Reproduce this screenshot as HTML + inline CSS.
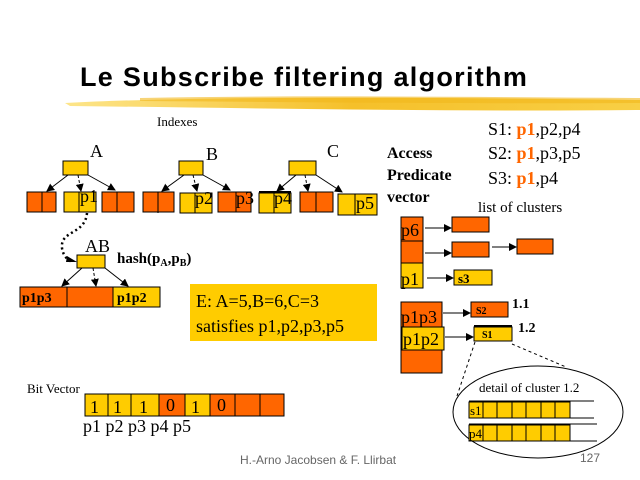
<!DOCTYPE html>
<html><head><meta charset="utf-8"><style>
html,body{margin:0;padding:0;background:#fff;width:640px;height:480px;overflow:hidden}
svg{display:block}
</style></head><body>
<svg width="640" height="480" viewBox="0 0 640 480" xmlns="http://www.w3.org/2000/svg" font-family="'Liberation Serif', serif">
<defs>
<marker id="ah" markerWidth="8" markerHeight="8" refX="7" refY="4" orient="auto" markerUnits="userSpaceOnUse"><path d="M0,0 L8,4 L0,8 z" fill="#000"/></marker>
<linearGradient id="br" x1="0" x2="1" y1="0" y2="0"><stop offset="0" stop-color="#fde58a"/><stop offset="0.5" stop-color="#f5c02a"/><stop offset="1" stop-color="#f8cf45"/></linearGradient>
</defs>
<!-- title -->
<path d="M65,103 C200,96 400,97 640,100 L640,110 C450,112 250,108 70,106 Z" fill="url(#br)"/>
<path d="M140,98 C300,95 480,97 640,98 L640,103 C450,104 300,102 140,101 Z" fill="#f2b81c" opacity="0.6"/>
<text x="80" y="86" font-family="'Liberation Sans', sans-serif" font-weight="bold" font-size="27" letter-spacing="1.3" fill="#000">Le Subscribe filtering algorithm</text>
<text x="157" y="126" font-size="13">Indexes</text>

<g stroke="#000" stroke-width="1">
<!-- A -->
<rect x="63" y="161" width="25" height="14" fill="#ffcc00"/>
<rect x="27" y="192" width="29" height="20" fill="#ff6600"/><line x1="42" y1="192" x2="42" y2="212"/>
<rect x="64" y="192" width="32" height="20" fill="#ffcc00"/><line x1="79" y1="192" x2="79" y2="212"/>
<rect x="102" y="192" width="32" height="20" fill="#ff6600"/><line x1="117" y1="192" x2="117" y2="212"/>
<line x1="68" y1="175" x2="47" y2="191" marker-end="url(#ah)"/>
<line x1="78" y1="175" x2="81" y2="191" marker-end="url(#ah)" stroke-dasharray="3,2"/>
<line x1="88" y1="175" x2="115" y2="190" marker-end="url(#ah)"/>
<!-- B -->
<rect x="179" y="161" width="24" height="14" fill="#ffcc00"/>
<rect x="143" y="192" width="31" height="20" fill="#ff6600"/><line x1="158" y1="192" x2="158" y2="213"/>
<rect x="180" y="193" width="32" height="20" fill="#ffcc00"/><line x1="195" y1="193" x2="195" y2="213"/>
<rect x="218" y="192" width="33" height="20" fill="#ff6600"/><line x1="236" y1="192" x2="236" y2="212"/>
<line x1="184" y1="175" x2="162" y2="191" marker-end="url(#ah)"/>
<line x1="193" y1="175" x2="197" y2="191" marker-end="url(#ah)" stroke-dasharray="3,2"/>
<line x1="203" y1="175" x2="230" y2="190" marker-end="url(#ah)"/>
<!-- C -->
<rect x="289" y="161" width="27" height="14" fill="#ffcc00"/>
<rect x="259" y="193" width="32" height="20" fill="#ffcc00"/><line x1="274" y1="193" x2="274" y2="213"/>
<line x1="259" y1="192" x2="291" y2="192" stroke-width="2"/>
<rect x="300" y="192" width="33" height="20" fill="#ff6600"/><line x1="316" y1="192" x2="316" y2="212"/>
<rect x="338" y="194" width="39" height="21" fill="#ffcc00"/><line x1="355" y1="194" x2="355" y2="215"/>
<line x1="296" y1="175" x2="277" y2="191" marker-end="url(#ah)"/>
<line x1="305" y1="175" x2="308" y2="191" marker-end="url(#ah)" stroke-dasharray="3,2"/>
<line x1="316" y1="175" x2="342" y2="192" marker-end="url(#ah)"/>
<!-- AB -->
<rect x="77" y="255" width="28" height="13" fill="#ffcc00"/>
<rect x="20" y="287" width="47" height="20" fill="#ff6600"/>
<rect x="67" y="287" width="46" height="20" fill="#ff6600"/>
<rect x="113" y="287" width="47" height="20" fill="#ffcc00"/>
<line x1="82" y1="268" x2="62" y2="286" marker-end="url(#ah)"/>
<line x1="93" y1="268" x2="96" y2="286" marker-end="url(#ah)" stroke-dasharray="3,2"/>
<line x1="105" y1="268" x2="128" y2="286" marker-end="url(#ah)"/>
</g>
<path d="M87,213 C85,235 60,230 62,248 C63,256 68,260 72,262" fill="none" stroke="#000" stroke-width="2.5" stroke-dasharray="2,3"/>
<path d="M67,256 L77,262 L66,262 z" fill="#000"/>
<g font-size="18">
<text x="90" y="157">A</text><text x="206" y="160">B</text><text x="327" y="157">C</text>
<text x="80" y="202">p1</text><text x="195" y="204">p2</text><text x="236" y="204">p3</text>
<text x="274" y="204">p4</text><text x="356" y="209">p5</text>
<text x="85" y="252">AB</text>
</g>
<text x="117" y="263" font-size="15" font-weight="bold">hash(p<tspan font-size="10" dy="3">A</tspan><tspan dy="-3">,p</tspan><tspan font-size="10" dy="3">B</tspan><tspan dy="-3">)</tspan></text>
<text x="22" y="302" font-size="14" font-weight="bold">p1p3</text>
<text x="117" y="302" font-size="14" font-weight="bold">p1p2</text>

<!-- E box -->
<rect x="190" y="284" width="187" height="57" fill="#ffcc00"/>
<text x="196" y="307" font-size="18">E: A=5,B=6,C=3</text>
<text x="196" y="332" font-size="18">satisfies p1,p2,p3,p5</text>

<!-- bit vector -->
<text x="27" y="393" font-size="13">Bit Vector</text>
<g stroke="#000">
<rect x="85" y="394" width="23" height="22" fill="#ffcc00"/>
<rect x="108" y="394" width="23" height="22" fill="#ffcc00"/>
<rect x="131" y="394" width="28" height="22" fill="#ffcc00"/>
<rect x="159" y="394" width="26" height="22" fill="#ff6600"/>
<rect x="185" y="394" width="25" height="22" fill="#ffcc00"/>
<rect x="210" y="394" width="25" height="22" fill="#ff6600"/>
<rect x="235" y="394" width="25" height="22" fill="#ff6600"/>
<rect x="260" y="394" width="24" height="22" fill="#ff6600"/>
</g>
<g font-size="18"><text x="90" y="413">1</text><text x="113" y="413">1</text><text x="139" y="413">1</text><text x="166" y="411">0</text><text x="191" y="413">1</text><text x="217" y="411">0</text></g>
<text x="83" y="432" font-size="18">p1 p2 p3 p4 p5</text>

<!-- right side -->
<g font-size="18">
<text x="488" y="135">S1: <tspan fill="#ff6600" font-weight="bold">p1</tspan>,p2,p4</text>
<text x="488" y="159">S2: <tspan fill="#ff6600" font-weight="bold">p1</tspan>,p3,p5</text>
<text x="488" y="184">S3: <tspan fill="#ff6600" font-weight="bold">p1</tspan>,p4</text>
</g>
<g font-size="16" font-weight="bold"><text x="387" y="158">Access</text><text x="387" y="180">Predicate</text><text x="387" y="202">vector</text></g>
<text x="478" y="212" font-size="15">list of clusters</text>
<g stroke="#000">
<rect x="401" y="217" width="22" height="24" fill="#ff6600"/>
<rect x="401" y="241" width="22" height="22" fill="#ff6600"/>
<rect x="401" y="263" width="22" height="25" fill="#ffcc00"/>
<rect x="452" y="217" width="37" height="15" fill="#ff6600"/>
<rect x="452" y="242" width="37" height="15" fill="#ff6600"/>
<rect x="517" y="239" width="36" height="15" fill="#ff6600"/>
<rect x="454" y="270" width="38" height="15" fill="#ffcc00"/>
<line x1="425" y1="228" x2="451" y2="228" marker-end="url(#ah)"/>
<line x1="425" y1="253" x2="451" y2="253" marker-end="url(#ah)"/>
<line x1="492" y1="247" x2="516" y2="247" marker-end="url(#ah)"/>
<line x1="427" y1="278" x2="453" y2="278" marker-end="url(#ah)"/>
<rect x="401" y="302" width="41" height="71" fill="#ff6600"/>
<rect x="402" y="327" width="42" height="23" fill="#ffcc00"/>
<rect x="471" y="302" width="37" height="15" fill="#ff6600"/>
<rect x="474" y="327" width="38" height="14" fill="#ffcc00"/>
<line x1="474" y1="326" x2="512" y2="326" stroke-width="2"/>
<line x1="443" y1="313" x2="470" y2="313" marker-end="url(#ah)"/>
<line x1="445" y1="337" x2="473" y2="337" marker-end="url(#ah)"/>
</g>
<g font-size="18"><text x="401" y="236">p6</text><text x="401" y="285">p1</text><text x="401" y="323">p1p3</text><text x="403" y="345">p1p2</text></g>
<text x="458" y="283" font-size="13" font-weight="bold">s3</text>
<text x="476" y="314" font-size="10" font-weight="bold">S2</text>
<text x="482" y="338" font-size="10" font-weight="bold">S1</text>
<text x="512" y="308" font-size="14" font-weight="bold">1.1</text>
<text x="518" y="332" font-size="14" font-weight="bold">1.2</text>
<line x1="475" y1="342" x2="457" y2="396" stroke="#000" stroke-dasharray="3,3"/>
<line x1="512" y1="344" x2="566" y2="367" stroke="#000" stroke-dasharray="3,3"/>
<ellipse cx="538" cy="412" rx="85" ry="46" fill="none" stroke="#000"/>
<text x="479" y="392" font-size="13">detail of cluster 1.2</text>
<g stroke="#000">
<line x1="469" y1="401" x2="594" y2="401"/><line x1="469" y1="418" x2="594" y2="418"/>
<line x1="469" y1="424" x2="597" y2="424"/><line x1="469" y1="441" x2="597" y2="441"/>
<rect x="469" y="402" width="101" height="16" fill="#ffcc00"/>
<rect x="469" y="425" width="101" height="16" fill="#ffcc00"/>
<path d="M483,402v16M497,402v16M512,402v16M526,402v16M541,402v16M555,402v16M483,425v16M497,425v16M512,425v16M526,425v16M541,425v16M555,425v16"/>
</g>
<text x="470" y="415" font-size="13">s1</text>
<text x="469" y="438" font-size="13">p4</text>

<text x="240" y="464" font-family="'Liberation Sans', sans-serif" font-size="12" fill="#666">H.-Arno Jacobsen &amp; F. Llirbat</text>
<text x="580" y="462" font-family="'Liberation Sans', sans-serif" font-size="12" fill="#666">127</text>
</svg>
</body></html>
